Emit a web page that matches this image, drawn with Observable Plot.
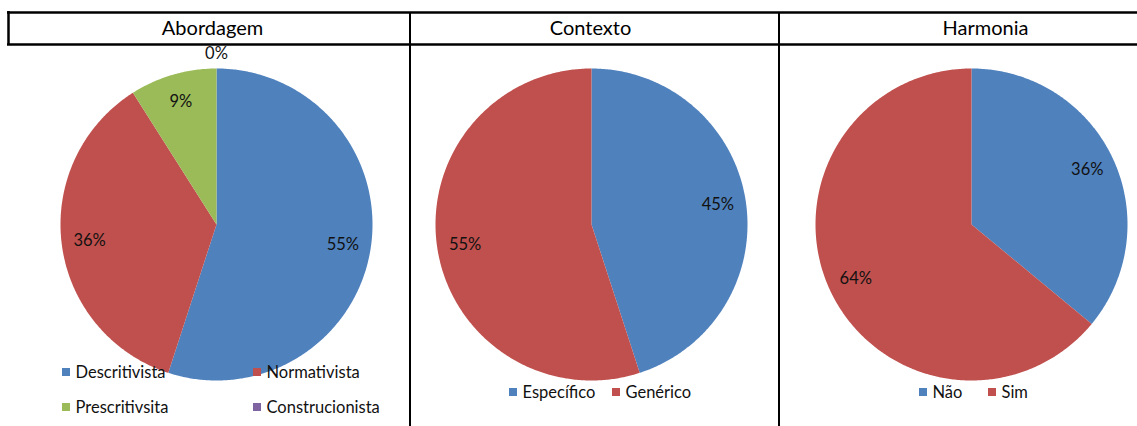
<!DOCTYPE html>
<html>
<head>
<meta charset="utf-8">
<script src="https://cdn.jsdelivr.net/npm/d3@7"></script>
<script src="https://cdn.jsdelivr.net/npm/@observablehq/plot@0.6"></script>
<style>
  html, body { margin: 0; padding: 0; background: #fff; }
  #chart svg { display: block; }
</style>
</head>
<body>
<div id="chart"></div>
<script>
// Panel titles
const panelTitles = ["Abordagem", "Contexto", "Harmonia"];

// Abordagem
const abordagemCategories = ["Descritivista", "Normativista", "Prescritivsita", "Construcionista"];
const abordagemValues = [55, 36, 9, 0];

// Contexto
const contextoCategories = ["Específico", "Genérico"];
const contextoValues = [45, 55];

// Harmonia
const harmoniaCategories = ["Não", "Sim"];
const harmoniaValues = [36, 64];

// Series colours (Office palette)
const seriesColors = ["#4F81BD", "#C0504D", "#9BBB59", "#8064A2"];

// Layout of the figure (pixels)
const W = 1137, H = 426;
const R = 156;
const FONT = "Lato, 'Open Sans', sans-serif";
const layout = [
  {cx: 216, cy: 224, titleX: 212,
   legend: [[62, 372], [253, 372], [62, 407], [253, 407]]},
  {cx: 591, cy: 224, titleX: 590,
   legend: [[509, 392], [612, 392]]},
  {cx: 971, cy: 224, titleX: 985,
   legend: [[919, 392], [988, 392]]}
];

const datasets = [
  {cats: abordagemCategories, vals: abordagemValues},
  {cats: contextoCategories, vals: contextoValues},
  {cats: harmoniaCategories, vals: harmoniaValues}
];

const slicePoints = [];
const labels = [];
const legendRects = [];
const legendTexts = [];
const titles = [];

datasets.forEach((ds, p) => {
  const L = layout[p];
  const arcs = d3.pie().sort(null).value(d => d)(ds.vals);
  arcs.forEach((a, i) => {
    const id = `${p}-${i}`;
    const color = seriesColors[i];
    // Slice outline: centre, arc from startAngle to endAngle (clockwise from 12 o'clock), back to centre
    if (a.endAngle > a.startAngle) {
      slicePoints.push({id, color, x: L.cx, y: L.cy});
      const n = Math.max(2, Math.ceil((a.endAngle - a.startAngle) / 0.01));
      for (let k = 0; k <= n; k++) {
        const t = a.startAngle + (a.endAngle - a.startAngle) * k / n;
        slicePoints.push({id, color, x: L.cx + R * Math.sin(t), y: L.cy - R * Math.cos(t)});
      }
      slicePoints.push({id, color, x: L.cx, y: L.cy});
    }
    // Percentage label at the slice's mid-angle
    const mid = (a.startAngle + a.endAngle) / 2;
    const lr = ds.vals[i] > 0 ? 0.82 * R : R + 15;
    labels.push({x: L.cx + lr * Math.sin(mid), y: L.cy - lr * Math.cos(mid), text: `${ds.vals[i]}%`});
    // Legend entry
    const [lx, ly] = L.legend[i];
    legendRects.push({x1: lx, x2: lx + 8, y1: ly - 4, y2: ly + 4, color});
    legendTexts.push({x: lx + 13, y: ly, text: ds.cats[i]});
  });
  titles.push({x: L.titleX, y: 28, text: panelTitles[p]});
});

const chart = Plot.plot({
  width: W,
  height: H,
  margin: 0,
  x: {domain: [0, W], range: [0, W], axis: null},
  y: {domain: [0, H], range: [0, H], axis: null},
  color: {type: "identity"},
  style: {background: "#fff", fontFamily: FONT},
  marks: [
    // Pie slices
    Plot.line(slicePoints, {x: "x", y: "y", z: "id", fill: "color", stroke: null, curve: "linear"}),
    // Percentage labels
    Plot.text(labels, {x: "x", y: "y", text: "text", fontSize: 16.5, fill: "#111", fontFamily: FONT}),
    // Legends
    Plot.rect(legendRects, {x1: "x1", x2: "x2", y1: "y1", y2: "y2", fill: "color"}),
    Plot.text(legendTexts, {x: "x", y: "y", text: "text", textAnchor: "start", fontSize: 16.5, fill: "#111", fontFamily: FONT}),
    // Header table borders
    Plot.ruleY([12, 44], {x1: 7, x2: W, stroke: "#000", strokeWidth: 2.5}),
    Plot.ruleX([8], {y1: 11, y2: 45, stroke: "#000", strokeWidth: 2.5}),
    Plot.ruleX([409.5, 778.5], {y1: 12, y2: H, stroke: "#000", strokeWidth: 2}),
    // Panel titles
    Plot.text(titles, {x: "x", y: "y", text: "text", fontSize: 20, fill: "#000", fontFamily: FONT})
  ]
});

document.getElementById("chart").appendChild(chart);
</script>
</body>
</html>
